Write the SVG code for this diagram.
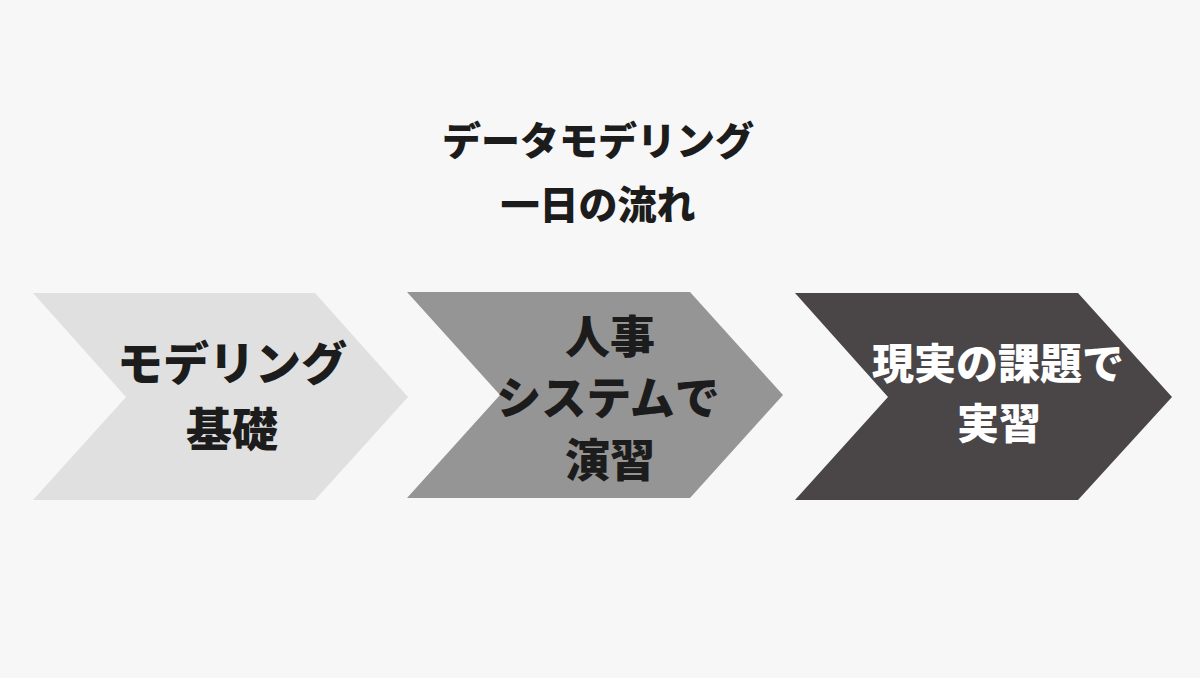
<svg xmlns="http://www.w3.org/2000/svg" width="1200" height="678" viewBox="0 0 1200 678">
<style>
text{font-family:"Noto Sans CJK JP","Noto Sans CJK SC",sans-serif;font-weight:900;text-anchor:middle;fill:#1c1c1c}
.t{font-size:39px}
.a{font-size:46px}
.b{font-size:45px}
.c{font-size:42px;fill:#ffffff}
</style>
<rect width="1200" height="678" fill="#f7f7f7"/>
<g id="title">
<text class="t" x="598" y="155">データモデリング</text>
<text class="t" x="598" y="219">一日の流れ</text>
</g>
<g id="connectors"></g>
<g id="step1">
<polygon points="33,293 315,293 408,397 315,500 33,500 126,397" fill="#e0e0e0"/>
<text class="a" x="232" y="380">モデリング</text>
<text class="a" x="232" y="446">基礎</text>
</g>
<g id="step2">
<polygon points="407,292 690,292 783,395 690,498 407,498 500,395" fill="#959595"/>
<text class="b" x="610" y="354">人事</text>
<text class="b" x="608" y="415">システムで</text>
<text class="b" x="610" y="477">演習</text>
</g>
<g id="step3">
<polygon points="795,293 1078,293 1172,397 1078,500 795,500 888,397" fill="#4a4647"/>
<text class="c" x="998" y="379">現実の課題で</text>
<text class="c" x="999" y="439">実習</text>
</g>
</svg>
